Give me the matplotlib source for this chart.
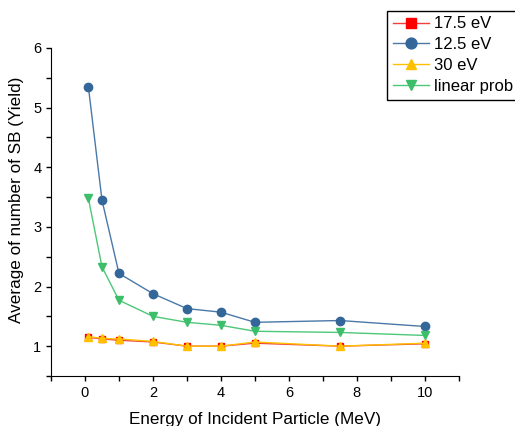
import matplotlib.pyplot as plt

plt.rcParams['font.family'] = ['Liberation Sans', 'DejaVu Sans']

energy = [0.1, 0.5, 1, 2, 3, 4, 5, 7.5, 10]
yield_175 = [1.15, 1.12, 1.10, 1.07, 1.00, 1.00, 1.05, 1.00, 1.04]
yield_125 = [5.35, 3.45, 2.22, 1.88, 1.63, 1.57, 1.40, 1.43, 1.33]
yield_30 = [1.16, 1.13, 1.12, 1.08, 1.00, 1.00, 1.07, 1.00, 1.05]
yield_lin = [3.48, 2.33, 1.77, 1.50, 1.40, 1.35, 1.25, 1.23, 1.18]

fig = plt.figure(figsize=(5.15, 4.26), dpi=100)
ax = fig.add_axes([0.099, 0.1174, 0.792, 0.770])

ax.plot(energy, yield_175, color="#f04040", lw=1, marker="s", ms=5,
        mfc="#ff0000", mec="#ff0000", label="17.5 eV")
ax.plot(energy, yield_125, color="#4a78a8", lw=1, marker="o", ms=6,
        mfc="#336699", mec="#336699", label="12.5 eV")
ax.plot(energy, yield_30, color="#ffc000", lw=1, marker="^", ms=6,
        mfc="#ffc000", mec="#ffc000", label="30 eV")
ax.plot(energy, yield_lin, color="#4cc878", lw=1, marker="v", ms=6,
        mfc="#3cbe6a", mec="#3cbe6a", label="linear prob")

ax.set_xlim(-1, 11)
ax.set_ylim(0.5, 6)
ax.set_xticks([0, 2, 4, 6, 8, 10])
ax.set_xticks([-1, 1, 3, 5, 7, 9, 11], minor=True)
ax.set_yticks([1, 2, 3, 4, 5, 6])
ax.set_yticks([0.5, 1.5, 2.5, 3.5, 4.5, 5.5], minor=True)
ax.tick_params(which="both", direction="out", length=3.5, width=1, labelsize=10.5)
ax.spines["top"].set_visible(False)
ax.spines["right"].set_visible(False)

ax.set_xlabel("Energy of Incident Particle (MeV)", fontsize=12.3, labelpad=9)
ax.set_ylabel("Average of number of SB (Yield)", fontsize=12.3)
ax.yaxis.set_label_coords(-0.066, 0.537)

leg = fig.legend(loc="upper left", bbox_to_anchor=(0.751, 0.975), fontsize=12,
                 fancybox=False, edgecolor="black", framealpha=1,
                 borderaxespad=0, handlelength=2.2, handletextpad=0.3,
                 borderpad=0.35, labelspacing=0.35, markerscale=1.3)
leg.get_frame().set_linewidth(1)

fig.savefig("out.png", dpi=100)
